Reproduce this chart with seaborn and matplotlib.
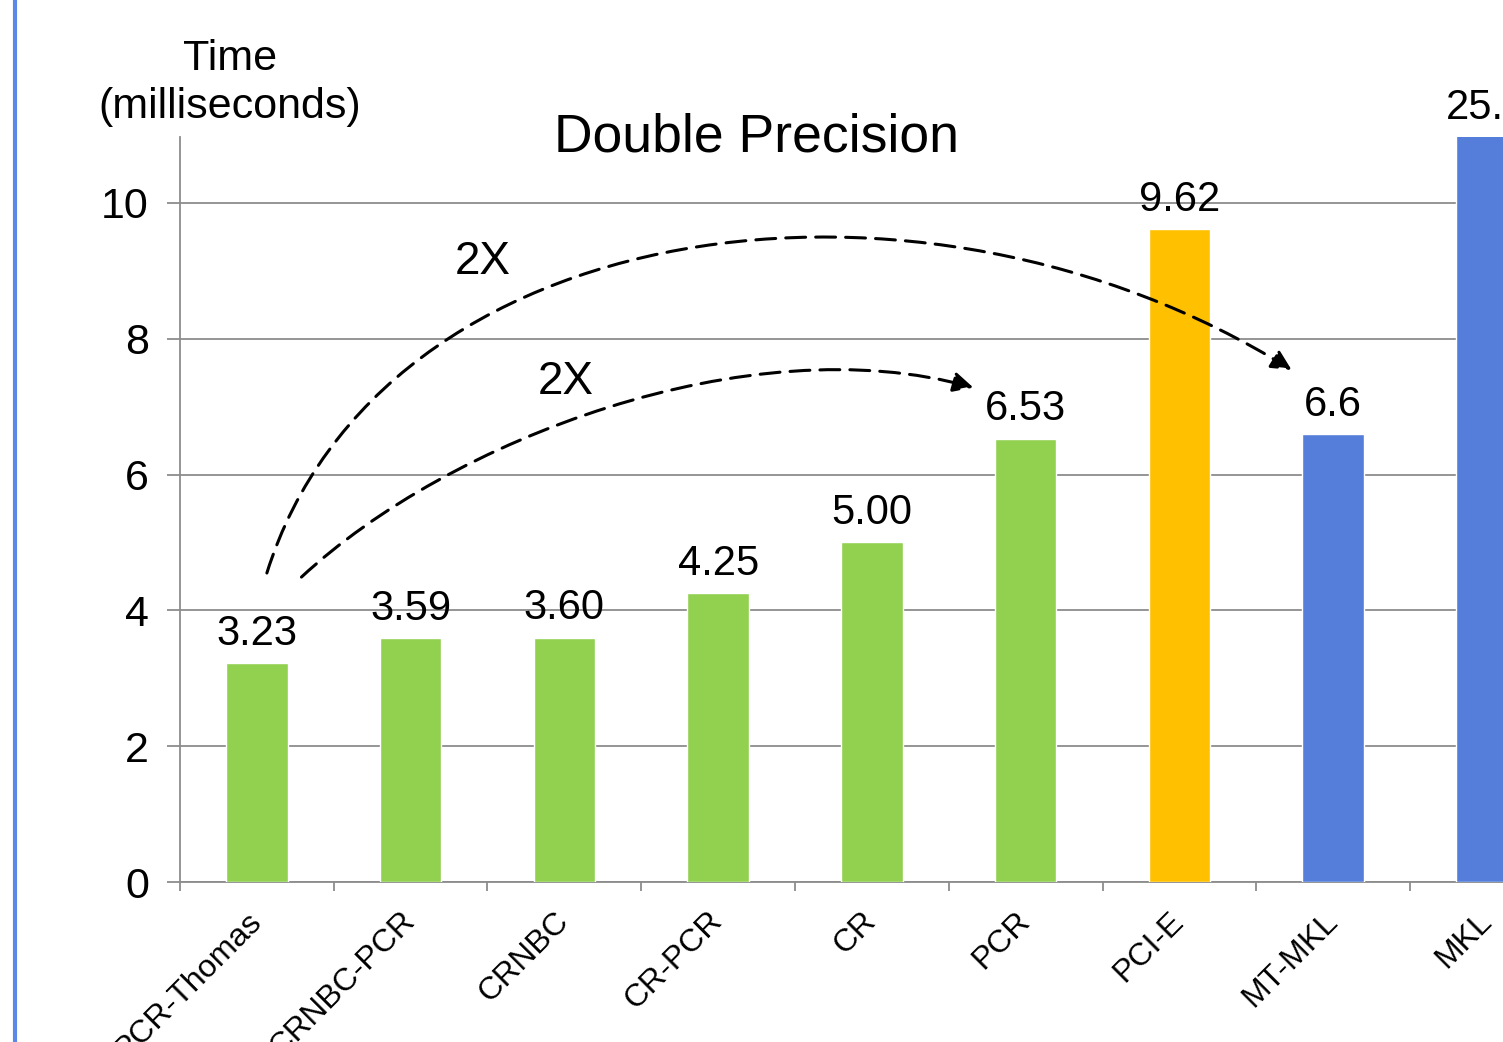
import matplotlib
matplotlib.use("Agg")
import matplotlib.pyplot as plt
from matplotlib.patches import FancyArrowPatch
from matplotlib.path import Path
from matplotlib.lines import Line2D
import seaborn as sns
import pandas as pd

# Solver timings (milliseconds), double precision
solvers = ["PCR-Thomas", "CRNBC-PCR", "CRNBC", "CR-PCR", "CR", "PCR",
           "PCI-E", "MT-MKL", "MKL"]
times = [3.23, 3.59, 3.60, 4.25, 5.00, 6.53, 9.62, 6.6, 25.6]
value_labels = ["3.23", "3.59", "3.60", "4.25", "5.00", "6.53", "9.62", "6.6", "25.6"]
bar_colors = ["#92D050"] * 6 + ["#FFC000", "#547ED9", "#547ED9"]
y_ticks = [0, 2, 4, 6, 8, 10]

sns.set_theme(style="white")
plt.rcParams["font.family"] = ["Liberation Sans", "DejaVu Sans"]
plt.rcParams["text.color"] = "black"
plt.rcParams["xtick.labelcolor"] = "black"
plt.rcParams["ytick.labelcolor"] = "black"

df = pd.DataFrame({"solver": solvers, "time": times})

fig = plt.figure(figsize=(15.03, 10.42), dpi=100)
ax = fig.add_axes([0.11976, 0.15355, 0.92066, 0.71497])

grey = "#8C8C8C"
ymax = 10.97

sns.barplot(data=df, x="solver", y="time", hue="solver", palette=bar_colors,
            saturation=1, width=0.4, legend=False, ax=ax, zorder=3)

ax.set_xlim(-0.5, len(solvers) - 0.5)
ax.set_ylim(0, ymax)
ax.set_yticks(y_ticks)
ax.set_yticklabels([str(t) for t in y_ticks])
ax.set_xlabel("")
ax.set_ylabel("")

# gridlines and spines
ax.yaxis.grid(True, color=grey, lw=1.3, zorder=0)
ax.xaxis.grid(False)
ax.set_axisbelow(True)
for side in ["top", "right"]:
    ax.spines[side].set_visible(False)
for side in ["left", "bottom"]:
    ax.spines[side].set_color(grey)
    ax.spines[side].set_linewidth(1.3)

ax.tick_params(axis="y", which="major", direction="out", length=9.4, width=1.3,
               color=grey, labelsize=31, pad=13, left=True, labelcolor="black")
ax.set_xticks([i - 0.5 for i in range(len(solvers) + 1)], minor=True)
ax.tick_params(axis="x", which="minor", direction="out", length=6.5, width=1.3,
               color=grey, bottom=True)
ax.tick_params(axis="x", which="major", length=0, labelsize=23, pad=25,
               labelcolor="black")
plt.setp(ax.get_xticklabels(), rotation=45, ha="right", va="center",
         rotation_mode="anchor")

# value labels above bars (clipped bars get their label at the top edge)
for i, (v, lab) in enumerate(zip(times, value_labels)):
    ax.annotate(lab, (i, min(v, ymax)), xytext=(0, 13), textcoords="offset points",
                ha="center", va="baseline", fontsize=30, color="black",
                annotation_clip=False, zorder=5)

# speed-up arrows
def dashed_arc(p0, c1, c2, p3):
    path = Path([p0, c1, c2, p3],
                [Path.MOVETO, Path.CURVE4, Path.CURVE4, Path.CURVE4])
    arrow = FancyArrowPatch(path=path, arrowstyle="-|>", mutation_scale=30,
                            color="black", lw=2.2, linestyle=(0, (6.5, 3.3)),
                            shrinkA=0, shrinkB=0, zorder=6)
    ax.add_patch(arrow)

dashed_arc((0.065, times[0] + 1.32), (0.80, 9.85), (4.31, 10.95),
           (7 - 0.27, times[7] + 0.94))
dashed_arc((0.29, times[0] + 1.26), (1.25, 6.51), (3.20, 8.20),
           (5 - 0.34, times[5] + 0.75))

ax.text(1.47, 9.13, "2X", fontsize=33, ha="center", va="center", zorder=6)
ax.text(2.01, 7.36, "2X", fontsize=33, ha="center", va="center", zorder=6)

# titles
fig.text(757 / 1503, 1 - 152 / 1042, "Double Precision", fontsize=38.5,
         ha="center", va="baseline", color="black")
fig.text(230 / 1503, 1 - 83 / 1042, "Time\n(milliseconds)", fontsize=31,
         ha="center", va="center", multialignment="center", linespacing=1.25,
         color="black")

# slide accent bar on the left edge
fig.add_artist(Line2D([14.5 / 1503, 14.5 / 1503], [0, 1], transform=fig.transFigure,
                      color="#5B88E4", lw=3.0))

fig.savefig("out.png", dpi=100)
